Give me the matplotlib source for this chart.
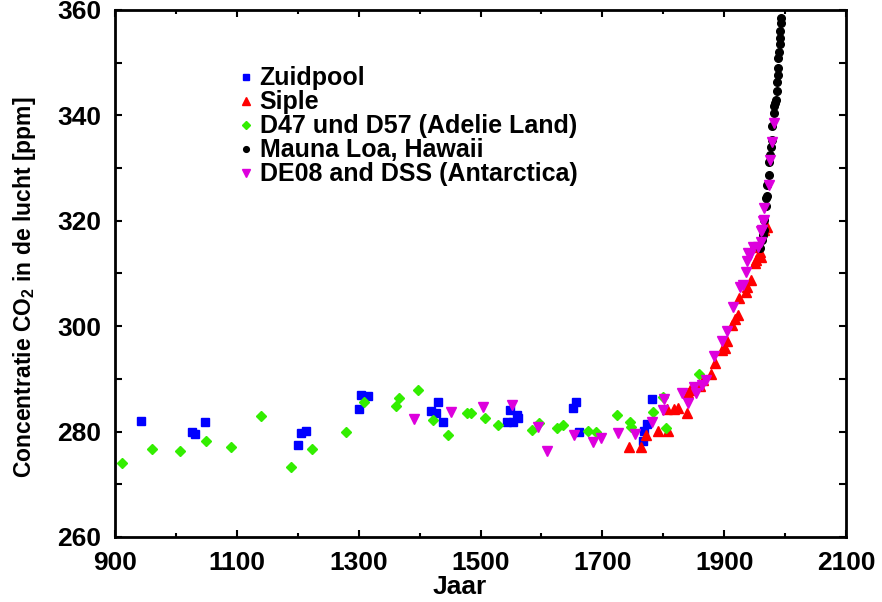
import matplotlib.pyplot as plt
import matplotlib.ticker as tick

plt.rcParams["font.family"] = ["Liberation Sans", "DejaVu Sans"]
plt.rcParams["font.weight"] = "bold"
plt.rcParams["mathtext.fontset"] = "custom"
plt.rcParams["mathtext.rm"] = "Liberation Sans:bold"
plt.rcParams["mathtext.bf"] = "Liberation Sans:bold"

# Zuidpool
zuid_year = [943, 1027, 1032, 1048, 1200, 1206, 1213, 1300, 1304, 1315, 1418, 1427,
             1430, 1439, 1543, 1549, 1554, 1560, 1562, 1652, 1656, 1661, 1766, 1769,
             1773, 1782]
zuid_co2 = [282.0, 280.0, 279.5, 281.9, 277.4, 279.7, 280.2, 284.3, 287.0, 286.8, 283.9, 283.6,
            285.7, 281.8, 281.9, 284.1, 281.9, 283.1, 282.5, 284.4, 285.7, 280.0, 278.2, 280.1,
            281.5, 286.2]

# Siple
siple_year = [1744, 1764, 1772, 1792, 1807, 1806, 1817, 1825, 1839, 1841, 1844, 1860,
              1865, 1879, 1885, 1896, 1902, 1905, 1913, 1918, 1923, 1925, 1936, 1937,
              1944, 1948, 1951, 1953, 1958, 1960, 1965, 1970]
siple_co2 = [277.0, 277.0, 279.4, 280.1, 280.2, 284.2, 284.2, 284.4, 283.5, 287.3, 287.9, 288.6,
             289.8, 290.9, 293.0, 295.5, 295.8, 297.1, 300.2, 301.3, 302.1, 305.3, 306.5, 307.5,
             308.8, 315.1, 311.9, 312.5, 314.0, 313.2, 318.3, 318.9]

# D47 und D57 (Adelie Land)
adelie_year = [912, 960, 1007, 1049, 1091, 1140, 1189, 1224, 1280, 1309, 1361, 1367,
               1397, 1422, 1447, 1477, 1484, 1507, 1529, 1584, 1596, 1626, 1635, 1677,
               1690, 1724, 1746, 1747, 1783, 1800, 1805, 1858]
adelie_co2 = [274.0, 276.6, 276.3, 278.3, 277.1, 283.0, 273.2, 276.6, 279.9, 285.7, 284.9, 286.4,
              287.8, 282.2, 279.3, 283.6, 283.5, 282.5, 281.3, 280.3, 281.6, 280.7, 281.2, 280.1,
              279.9, 283.1, 281.8, 280.9, 283.7, 286.6, 280.7, 290.9]

# Mauna Loa, Hawaii
mauna_year = [1959, 1962, 1963, 1965, 1966, 1968, 1969, 1970, 1971, 1973, 1974, 1976,
              1977, 1978, 1979, 1981, 1982, 1984, 1985, 1986, 1986.5, 1988, 1988.5, 1989,
              1990, 1991, 1991.5, 1992, 1993, 1994]
mauna_co2 = [314.8, 316.4, 317.3, 318.3, 320.2, 322.7, 324.3, 324.6, 326.8, 328.7, 331.2, 332.5,
             334.0, 335.3, 337.9, 340.5, 341.7, 342.3, 342.9, 344.6, 346.3, 347.7, 348.9, 350.8,
             352.0, 353.5, 354.7, 355.9, 357.5, 358.4]

# DE08 and DSS (Antarctica)
de08_year = [1391, 1451, 1504, 1552, 1594, 1609, 1653, 1684, 1698, 1725, 1753, 1782,
             1800, 1802, 1831, 1841, 1850, 1854, 1863, 1870, 1883, 1896, 1905, 1915,
             1926, 1931, 1936, 1937, 1939, 1942, 1948, 1955, 1960, 1961, 1962, 1963,
             1965, 1966, 1973, 1976, 1978, 1981]
de08_co2 = [282.3, 283.8, 284.6, 285.0, 280.9, 276.4, 279.4, 278.1, 278.8, 279.8, 279.5, 281.8,
            284.0, 286.1, 287.4, 285.5, 288.5, 287.4, 288.8, 289.8, 294.3, 297.2, 299.0, 303.7,
            307.4, 307.8, 310.3, 312.3, 313.9, 313.5, 315.1, 315.1, 316.0, 318.0, 318.3, 320.0,
            320.2, 322.4, 326.8, 331.5, 335.0, 338.5]

fig = plt.figure(figsize=(8.82, 6.02), dpi=100)
ax = fig.add_axes([0.1304, 0.108, 0.8288, 0.8756])

ax.plot(zuid_year, zuid_co2, "s", color="#0000ff", markersize=6, label="Zuidpool")
ax.plot(siple_year, siple_co2, "^", color="#ff0000", markersize=7, label="Siple")
ax.plot(adelie_year, adelie_co2, "D", color="#33ee00", markersize=5, label="D47 und D57 (Adelie Land)")
ax.plot(mauna_year, mauna_co2, "o", color="black", markersize=5.5, label="Mauna Loa, Hawaii")
ax.plot(de08_year, de08_co2, "v", color="#dd00dd", markersize=7, label="DE08 and DSS (Antarctica)")

ax.set_xlim(900, 2100)
ax.set_ylim(260, 360)
ax.xaxis.set_major_locator(tick.MultipleLocator(200, offset=100))
ax.xaxis.set_minor_locator(tick.MultipleLocator(100))
ax.yaxis.set_major_locator(tick.MultipleLocator(20))
ax.yaxis.set_minor_locator(tick.MultipleLocator(10))
ax.tick_params(which="both", direction="in", top=True, right=True, width=1.5, labelsize=19, pad=10)
ax.tick_params(which="both", length=5)
ax.tick_params(axis="x", which="minor", length=3)
for s in ax.spines.values():
    s.set_linewidth(2)

ax.set_xlabel("Jaar", fontsize=19, fontweight="bold")
ax.xaxis.set_label_coords(0.472, -0.072)
ax.set_ylabel(r"Concentratie CO$_\mathbf{2}$ in de lucht [ppm]", fontsize=16.5, fontweight="bold")
ax.yaxis.set_label_coords(-0.105, 0.474)

ax.legend(loc="upper left", bbox_to_anchor=(0.15, 0.912), frameon=False, fontsize=18,
          handletextpad=0.1, labelspacing=0.0, handlelength=0.9, markerscale=0.75,
          borderaxespad=0)

fig.savefig("out.png", dpi=100)
